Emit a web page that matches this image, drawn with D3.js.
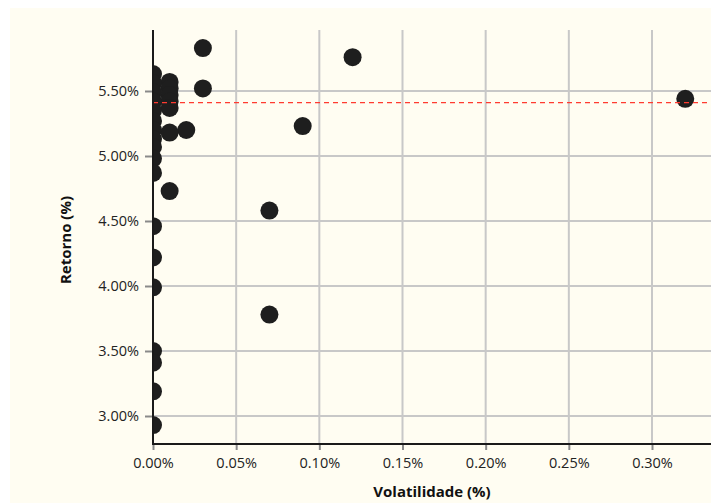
<!DOCTYPE html>
<html><head><meta charset="utf-8">
<script src="https://cdn.jsdelivr.net/npm/d3@7"></script>
<style>body{margin:0;background:#fff;}svg{display:block;}</style>
</head><body>
<svg id="c" width="711" height="503"></svg>
<script>
const volatility = [0.03, 0.12, 0.03, 0.32, 0.09, 0.02, 0.01, 0.01, 0.07, 0.07,
  0.01, 0.01, 0.01, 0.01, 0.01,
  0, 0, 0, 0, 0, 0, 0, 0, 0, 0, 0, 0, 0, 0, 0, 0, 0, 0];
const returns = [5.83, 5.76, 5.52, 5.44, 5.23, 5.20, 5.18, 4.73, 4.58, 3.78,
  5.57, 5.52, 5.47, 5.42, 5.37,
  5.63, 5.56, 5.49, 5.42, 5.35, 5.27, 5.20, 5.13, 5.07, 4.98, 4.87,
  4.46, 4.22, 3.99, 3.50, 3.41, 3.19, 2.93];
const xTicks = [0, 0.05, 0.10, 0.15, 0.20, 0.25, 0.30];
const yTicks = [3.0, 3.5, 4.0, 4.5, 5.0, 5.5];
const refLine = 5.41;
const xTitle = "Volatilidade (%)";
const yTitle = "Retorno (%)";

const svg = d3.select("#c");
const font = "'Open Sans', 'Liberation Sans', sans-serif";
svg.append("rect").attr("x",10).attr("y",8).attr("width",701).attr("height",495).attr("fill","#fffdf2");

const x = d3.scaleLinear().domain([0,0.30]).range([153,652]);
const y = d3.scaleLinear().domain([3.0,5.5]).range([416,91]);
const pL = 153, pR = 711, pT = 30, pB = 444;

svg.append("clipPath").attr("id","clip").append("rect")
  .attr("x",pL).attr("y",pT).attr("width",pR-pL).attr("height",pB-pT);

// grid
const g = svg.append("g");
g.selectAll(".vg").data(xTicks).join("line")
  .attr("x1",d=>x(d)).attr("x2",d=>x(d)).attr("y1",pT).attr("y2",pB)
  .attr("stroke","#c8c8c8").attr("stroke-width",2);
g.selectAll(".hg").data(yTicks).join("line")
  .attr("x1",pL).attr("x2",pR).attr("y1",d=>y(d)).attr("y2",d=>y(d))
  .attr("stroke","#c8c8c8").attr("stroke-width",2);

// axes via d3
const xAxis = svg.append("g").attr("transform",`translate(0,${pB})`)
  .call(d3.axisBottom(x).tickValues(xTicks).tickFormat(d=>d3.format(".2f")(d)+"%").tickSize(6).tickPadding(8));
const yAxis = svg.append("g").attr("transform",`translate(${pL},0)`)
  .call(d3.axisLeft(y).tickValues(yTicks).tickFormat(d=>d3.format(".2f")(d)+"%").tickSize(8).tickPadding(6));
[xAxis,yAxis].forEach(a=>{
  a.select(".domain").remove();
  a.selectAll(".tick line").attr("stroke","#8a8a8a").attr("stroke-width",2);
  a.selectAll(".tick text").attr("font-family",font).attr("font-size",14.5).attr("fill","#222");
});

// points
svg.append("g").attr("clip-path","url(#clip)")
  .selectAll("circle").data(volatility.map((v,i)=>[v,returns[i]])).join("circle")
  .attr("cx",d=>x(d[0])).attr("cy",d=>y(d[1])).attr("r",9).attr("fill","#1e1e1e");

// reference line
svg.append("line").attr("x1",pL).attr("x2",pR).attr("y1",y(refLine)).attr("y2",y(refLine))
  .attr("stroke","#ff3b30").attr("stroke-width",1.2).attr("stroke-dasharray","5,4");

// axis lines
svg.append("line").attr("x1",pL).attr("x2",pL).attr("y1",pT).attr("y2",pB+1).attr("stroke","#1a1a1a").attr("stroke-width",2);
svg.append("line").attr("x1",pL-1).attr("x2",pR).attr("y1",pB).attr("y2",pB).attr("stroke","#1a1a1a").attr("stroke-width",2);

// titles
svg.append("text").attr("x",432).attr("y",497).attr("text-anchor","middle")
  .attr("font-family",font).attr("font-size",15).attr("font-weight","bold").attr("fill","#111").text(xTitle);
svg.append("text").attr("transform","translate(71,240) rotate(-90)").attr("text-anchor","middle")
  .attr("font-family",font).attr("font-size",15).attr("font-weight","bold").attr("fill","#111").text(yTitle);
</script>
</body></html>
